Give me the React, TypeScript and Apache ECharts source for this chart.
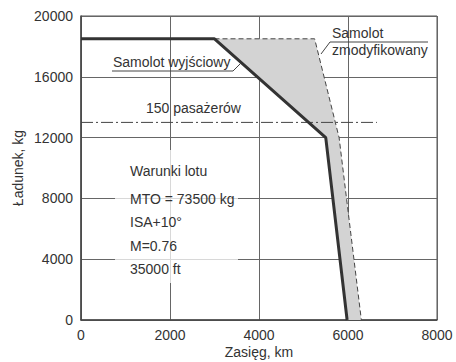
import React, { useEffect, useRef } from "react";
import * as echarts from "echarts";

const xTicks = [0, 2000, 4000, 6000, 8000];
const yTicks = [0, 4000, 8000, 12000, 16000, 20000];
const baseRange = [0, 3000, 5500, 5980];
const basePayload = [18500, 18500, 12000, 0];
const modRange = [3000, 5250, 5800, 6300];
const modPayload = [18500, 18500, 12000, 0];
const paxRange = [0, 6650];
const paxPayload = [13000, 13000];
const conditions = ["Warunki lotu", "MTO = 73500 kg", "ISA+10\u00B0", "M=0.76", "35000 ft"];

const FONT = "Liberation Sans, Arial, sans-serif";
const TXT = "#333";

export default function App() {
  const ref = useRef<HTMLDivElement>(null);
  useEffect(() => {
    const chart = echarts.init(ref.current!, null, { renderer: "svg" });
    const baseData = baseRange.map((x, i) => [x, basePayload[i]]);
    const modData = modRange.map((x, i) => [x, modPayload[i]]);
    const paxData = paxRange.map((x, i) => [x, paxPayload[i]]);
    const polyPts = [
      ...baseData.slice(1),
      ...modData.slice().reverse(),
    ];
    const condY = [171, 199, 222, 246, 269];
    chart.setOption({
      animation: false,
      textStyle: { fontFamily: FONT },
      grid: {
        left: 81, right: 19, top: 16, bottom: 42,
        outerBoundsMode: "none", containLabel: false,
        show: true, borderColor: "#555", borderWidth: 1,
      },
      xAxis: {
        type: "value",
        min: xTicks[0],
        max: xTicks[xTicks.length - 1],
        interval: 2000,
        name: "Zasięg, km",
        nameLocation: "middle",
        nameGap: 32,
        nameMoveOverlap: false,
        nameTextStyle: { fontSize: 14, color: TXT, fontFamily: FONT, verticalAlign: "middle" },
        axisLine: { lineStyle: { color: "#444", width: 1.5 } },
        axisTick: { show: false },
        axisLabel: { fontSize: 14, color: TXT, fontFamily: FONT, margin: 8, formatter: (v: number) => String(v) },
        splitLine: { show: true, lineStyle: { color: "#666", width: 1 } },
      },
      yAxis: {
        type: "value",
        min: yTicks[0],
        max: yTicks[yTicks.length - 1],
        interval: 4000,
        name: "Ładunek, kg",
        nameLocation: "middle",
        nameGap: 56,
        nameMoveOverlap: false,
        nameTextStyle: { fontSize: 14, color: TXT, fontFamily: FONT },
        axisLine: { show: true, lineStyle: { color: "#444", width: 1.5 } },
        axisTick: { show: false },
        axisLabel: { fontSize: 14, color: TXT, fontFamily: FONT, margin: 8, formatter: (v: number) => String(v) },
        splitLine: { show: true, lineStyle: { color: "#666", width: 1 } },
      },
      series: [
        {
          type: "custom",
          z: 1,
          data: [[0, 0]],
          renderItem: (params: any, api: any) => ({
            type: "polygon",
            shape: { points: polyPts.map((p) => api.coord(p)) },
            style: { fill: "#d3d3d3", stroke: "none" },
          }),
        },
        {
          type: "line",
          data: paxData,
          symbol: "none",
          z: 3,
          lineStyle: { color: "#444", width: 1, type: [12, 3, 2, 3] },
        },
        {
          type: "line",
          data: modData,
          symbol: "none",
          z: 4,
          lineStyle: { color: "#444", width: 1, type: [5, 3] },
        },
        {
          type: "line",
          data: baseData,
          symbol: "none",
          z: 5,
          lineStyle: { color: "#333", width: 3 },
        },
      ],
      graphic: [
        {
          type: "rect",
          z: 10,
          shape: { x: 115, y: 150, width: 123, height: 133 },
          style: { fill: "rgba(255,255,255,0.75)" },
        },
        ...conditions.map((t, i) => ({
          type: "text",
          z: 20,
          x: 130,
          y: condY[i],
          style: { text: t, fill: TXT, font: `14px ${FONT}`, textVerticalAlign: "middle" },
        })),
        {
          type: "text",
          z: 20,
          x: 146,
          y: 108,
          style: { text: "150 pasażerów", fill: TXT, font: `14px ${FONT}`, textVerticalAlign: "middle" },
        },
        {
          type: "text",
          z: 20,
          x: 113,
          y: 62,
          style: { text: "Samolot wyjściowy", fill: TXT, font: `14px ${FONT}`, textVerticalAlign: "middle" },
        },
        {
          type: "polyline",
          z: 20,
          shape: { points: [[112, 71], [233, 71], [241, 63]] },
          style: { stroke: "#444", lineWidth: 1, fill: "none" },
        },
        {
          type: "text",
          z: 20,
          x: 332,
          y: 33,
          style: { text: "Samolot", fill: TXT, font: `14px ${FONT}`, textVerticalAlign: "middle" },
        },
        {
          type: "text",
          z: 20,
          x: 332,
          y: 50,
          style: { text: "zmodyfikowany", fill: TXT, font: `14px ${FONT}`, textVerticalAlign: "middle" },
        },
        {
          type: "polyline",
          z: 20,
          shape: { points: [[428, 42], [330, 42], [321, 54]] },
          style: { stroke: "#444", lineWidth: 1, fill: "none" },
        },
      ],
    });
    return () => chart.dispose();
  }, []);
  return <div ref={ref} style={{ width: 456, height: 362, position: "absolute", left: 0, top: 0, background: "#fff" }} />;
}
